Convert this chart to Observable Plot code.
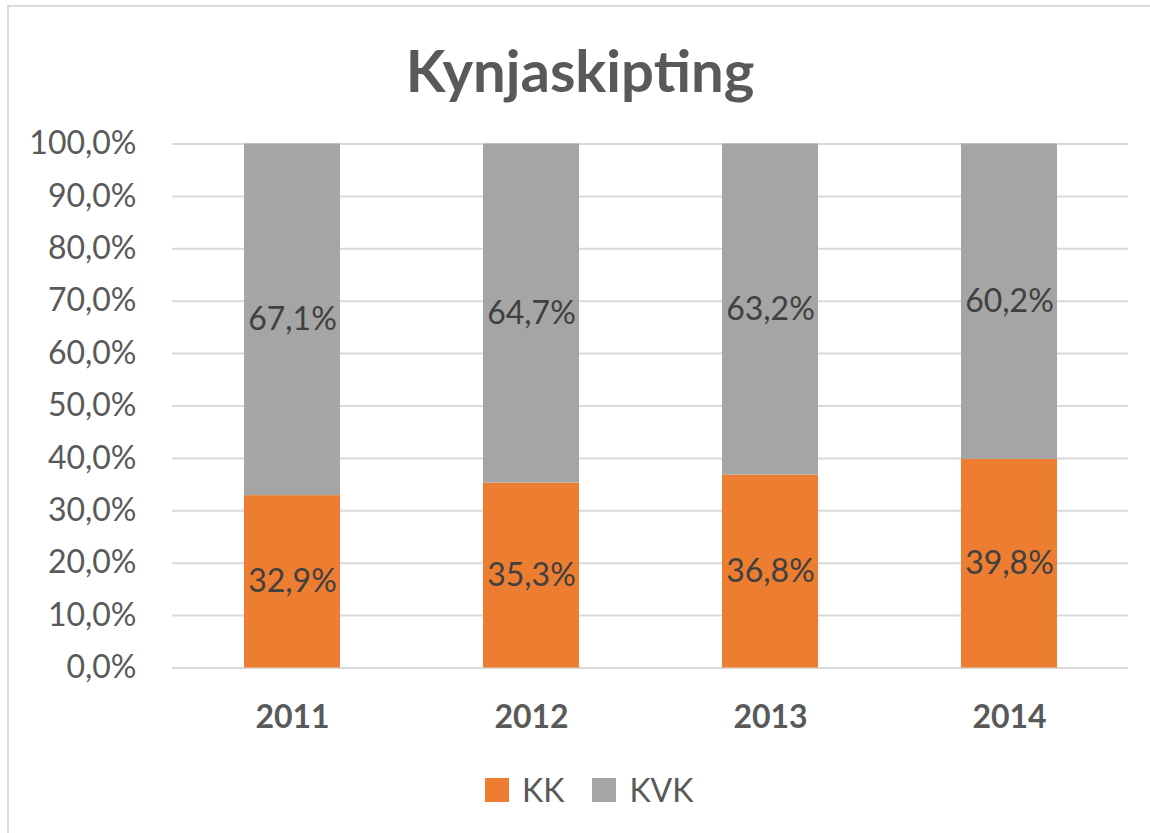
<!DOCTYPE html>
<html><head><meta charset="utf-8">
<script src="https://cdn.jsdelivr.net/npm/d3@7"></script>
<script src="https://cdn.jsdelivr.net/npm/@observablehq/plot@0.6"></script>
<style>
html,body{margin:0;padding:0;background:#fff;overflow:hidden;width:1150px;height:833px}
#frame{position:absolute;left:7px;top:5px;width:1200px;height:900px;border:2px solid #d9d9d9;box-sizing:border-box}
#wrap{position:absolute;left:0;top:0;width:1150px;height:833px;font-family:Lato,sans-serif;color:#595959}
#title{position:absolute;left:0;top:0;width:1160px;height:110px;text-align:center;font-weight:bold;font-size:58px;line-height:1;padding-top:41px;box-sizing:border-box}
#chart{position:absolute;left:0;top:110px}
#legend{position:absolute;left:485px;top:758px;height:75px;display:flex;align-items:flex-start;padding-top:12px;box-sizing:border-box;font-size:32px}
.item{display:flex;align-items:center;margin-right:28px}
.sw{width:24px;height:24px;margin-right:13px}
</style>
</head><body>
<div id="frame"></div>
<div id="wrap">
  <div id="title">Kynjaskipting</div>
  <div id="chart"></div>
  <div id="legend"></div>
</div>
<script>
const years = ["2011", "2012", "2013", "2014"];
const kk = [32.9, 35.3, 36.8, 39.8];
const kvk = [67.1, 64.7, 63.2, 60.2];
const seriesNames = ["KK", "KVK"];
const seriesColors = ["#ED7D31", "#A5A5A5"];
const yTicks = [0, 10, 20, 30, 40, 50, 60, 70, 80, 90, 100];

const rows = years.flatMap((yr, i) => [
  {year: yr, series: "KK", value: kk[i]},
  {year: yr, series: "KVK", value: kvk[i]}
]);
const fmt = v => v.toFixed(1).replace(".", ",") + "%";

const chart = Plot.plot({
  width: 1150,
  height: 648,
  marginTop: 33.5,
  marginBottom: 90.5,
  marginLeft: 172,
  marginRight: 22,
  style: {fontFamily: "Lato, sans-serif", fontSize: "32px", color: "#595959", background: "transparent"},
  x: {domain: years, paddingInner: 0.6, paddingOuter: 0.3, label: null},
  y: {domain: [0, 100], label: null},
  color: {domain: seriesNames, range: seriesColors},
  marks: [
    Plot.ruleY(yTicks, {stroke: "#d9d9d9", strokeWidth: 2}),
    Plot.barY(rows, {x: "year", y: "value", fill: "series", z: "series"}),
    Plot.text(rows, Plot.stackY({x: "year", y: "value", z: "series", text: d => fmt(d.value), fill: "#404040", fontSize: 32})),
    Plot.axisX({tickSize: 0, tickPadding: 37, fontWeight: "bold", fontSize: 32, fill: "#595959", label: null}),
    Plot.axisY({ticks: yTicks, tickFormat: fmt, tickSize: 0, tickPadding: 36, fontSize: 32, fill: "#595959", label: null})
  ]
});
document.getElementById("chart").appendChild(chart);

const legend = document.getElementById("legend");
seriesNames.forEach((name, i) => {
  const item = document.createElement("div");
  item.className = "item";
  const sw = document.createElement("div");
  sw.className = "sw";
  sw.style.background = seriesColors[i];
  const label = document.createElement("span");
  label.textContent = name;
  item.appendChild(sw);
  item.appendChild(label);
  legend.appendChild(item);
});
</script>
</body></html>
